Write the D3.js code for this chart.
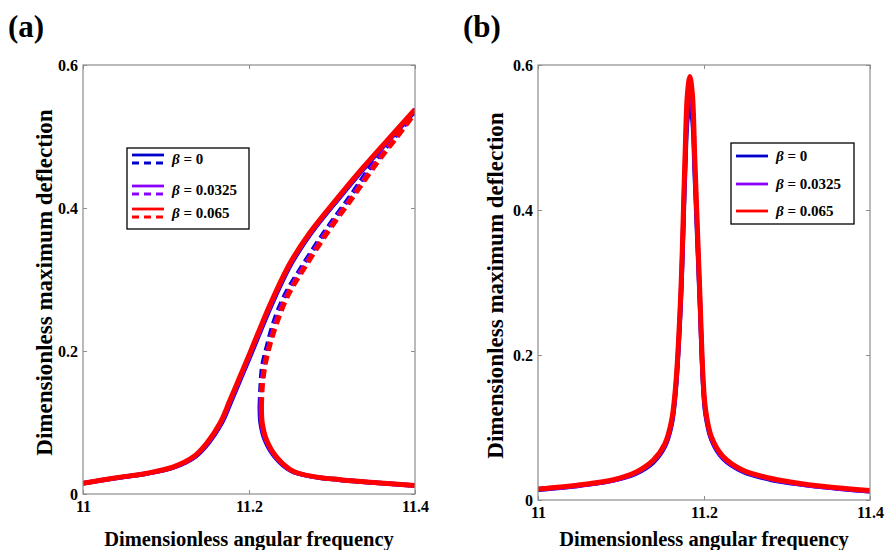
<!DOCTYPE html>
<html>
<head>
<meta charset="utf-8">
<script src="https://cdn.jsdelivr.net/npm/d3@7"></script>
<style>
  body { margin: 0; background: #fff; }
  svg text { font-family: 'Liberation Serif', 'Times New Roman', serif; font-weight: bold; fill: #000; }
</style>
</head>
<body>
<svg id="grafico"></svg>
<script>
// valores
let betas = ['0', '0.0325', '0.065'];
let cores = ['#0000cc', '#8c00ff', '#ff0000'];
let ticksX = [11, 11.2, 11.4];
let ticksY = [0, 0.2, 0.4, 0.6];

// painel (a): ramo superior (estavel)
let ampSupA = [0.015, 0.022, 0.029, 0.038, 0.052, 0.071, 0.099, 0.131, 0.164, 0.197, 0.231, 0.264, 0.322, 0.365, 0.413, 0.456, 0.494, 0.538];
let freqSupA0 = [11.0, 11.038, 11.079, 11.111, 11.135, 11.151, 11.167, 11.179, 11.191, 11.203, 11.215, 11.227, 11.251, 11.275, 11.308, 11.339, 11.368, 11.402];
let freqSupA1 = [11.0, 11.037, 11.078, 11.110, 11.134, 11.150, 11.166, 11.178, 11.190, 11.202, 11.214, 11.226, 11.250, 11.274, 11.307, 11.338, 11.367, 11.401];
let freqSupA2 = [11.0, 11.036, 11.077, 11.109, 11.133, 11.149, 11.165, 11.177, 11.189, 11.201, 11.213, 11.225, 11.249, 11.273, 11.306, 11.337, 11.366, 11.400];

// painel (a): ramo do meio (instavel, tracejado)
let ampMeioA = [0.123, 0.150, 0.178, 0.208, 0.241, 0.278, 0.313, 0.365, 0.415, 0.463, 0.499, 0.533];
let freqMeioA0 = [11.213, 11.214, 11.216, 11.222, 11.230, 11.243, 11.261, 11.290, 11.321, 11.350, 11.375, 11.399];
let freqMeioA1 = [11.214, 11.215, 11.218, 11.224, 11.232, 11.245, 11.263, 11.292, 11.323, 11.352, 11.377, 11.400];
let freqMeioA2 = [11.215, 11.216, 11.219, 11.225, 11.234, 11.247, 11.265, 11.294, 11.325, 11.354, 11.378, 11.400];

// painel (a): ramo inferior (estavel)
let ampInfA = [0.123, 0.099, 0.076, 0.052, 0.032, 0.024, 0.020, 0.016, 0.012];
let freqInfA0 = [11.213, 11.214, 11.219, 11.231, 11.251, 11.278, 11.308, 11.348, 11.398];
let freqInfA1 = [11.214, 11.215, 11.220, 11.232, 11.252, 11.279, 11.309, 11.349, 11.399];
let freqInfA2 = [11.215, 11.216, 11.221, 11.233, 11.253, 11.280, 11.310, 11.350, 11.400];

// painel (b): curva de ressonancia
let freqB = [11.0, 11.051, 11.091, 11.119, 11.139, 11.153, 11.161, 11.166, 11.172, 11.177, 11.180, 11.183, 11.186, 11.189, 11.195, 11.199, 11.202, 11.209, 11.223, 11.247, 11.28, 11.32, 11.36, 11.4];
let ampB0 = [0.014, 0.020, 0.027, 0.037, 0.052, 0.074, 0.104, 0.152, 0.272, 0.445, 0.525, 0.545, 0.525, 0.445, 0.272, 0.157, 0.117, 0.083, 0.057, 0.039, 0.028, 0.021, 0.016, 0.012];
let ampB1 = [0.015, 0.020, 0.027, 0.038, 0.054, 0.076, 0.107, 0.156, 0.279, 0.457, 0.542, 0.565, 0.542, 0.457, 0.279, 0.161, 0.120, 0.085, 0.058, 0.040, 0.029, 0.021, 0.016, 0.012];
let ampB2 = [0.015, 0.021, 0.028, 0.039, 0.055, 0.078, 0.110, 0.160, 0.285, 0.469, 0.560, 0.584, 0.560, 0.469, 0.285, 0.166, 0.124, 0.087, 0.060, 0.041, 0.030, 0.022, 0.017, 0.013];

let svg = d3.select('#grafico').attr('width', 894).attr('height', 550);

function zip(xs, ys) {
  return xs.map((x, i) => [x, ys[i]]);
}

// desenha um painel com eixos, curvas e legenda
function painel(p) {
  let fnX = d3.scaleLinear().domain([11, 11.4]).range([p.esq, p.dir]);
  let fnY = d3.scaleLinear().domain([0, 0.6]).range([p.base, p.topo]);

  let clipId = 'clip-' + p.nome;
  svg.append('clipPath').attr('id', clipId)
    .append('rect')
    .attr('x', p.esq).attr('y', p.topo)
    .attr('width', p.dir - p.esq).attr('height', p.base - p.topo);

  let linha = d3.line()
    .x(d => fnX(d[0]))
    .y(d => fnY(d[1]))
    .curve(d3.curveCatmullRom.alpha(0.5));

  let curvas = svg.append('g').attr('clip-path', 'url(#' + clipId + ')');
  p.series.forEach(s => {
    curvas.append('path')
      .attr('d', linha(s.pontos))
      .attr('fill', 'none')
      .attr('stroke', s.cor)
      .attr('stroke-width', s.largura)
      .attr('stroke-dasharray', s.tracejado ? '9,5' : null)
      .attr('stroke-linejoin', 'round');
  });

  // caixa e eixos
  svg.append('rect')
    .attr('x', p.esq).attr('y', p.topo)
    .attr('width', p.dir - p.esq).attr('height', p.base - p.topo)
    .attr('fill', 'none').attr('stroke', '#8c8c8c').attr('stroke-width', 1.2);

  let eixoX = svg.append('g').attr('transform', 'translate(0,' + p.base + ')')
    .call(d3.axisBottom(fnX).tickValues(ticksX).tickFormat(d3.format('')).tickSize(-4).tickSizeOuter(0).tickPadding(7));
  let eixoY = svg.append('g').attr('transform', 'translate(' + p.esq + ',0)')
    .call(d3.axisLeft(fnY).tickValues(ticksY).tickFormat(d3.format('')).tickSize(-4).tickSizeOuter(0).tickPadding(5));
  svg.append('g').attr('transform', 'translate(0,' + p.topo + ')')
    .call(d3.axisTop(fnX).tickValues(ticksX).tickFormat('').tickSize(-4).tickSizeOuter(0));
  svg.append('g').attr('transform', 'translate(' + p.dir + ',0)')
    .call(d3.axisRight(fnY).tickValues(ticksY).tickFormat('').tickSize(-4).tickSizeOuter(0));

  svg.selectAll('.domain').remove();
  svg.selectAll('.tick line').attr('stroke', '#8c8c8c');
  eixoX.selectAll('text').style('font-size', '16px').attr('fill', '#000');
  eixoY.selectAll('text').style('font-size', '16px').attr('fill', '#000');

  // titulos
  svg.append('text')
    .attr('x', (p.esq + p.dir) / 2).attr('y', 546)
    .attr('text-anchor', 'middle').style('font-size', '20.5px')
    .text('Dimensionless angular frequency');
  svg.append('text')
    .attr('transform', 'translate(' + p.tituloY + ',' + ((p.topo + p.base) / 2 + 3) + ') rotate(-90)')
    .attr('text-anchor', 'middle').style('font-size', '23px')
    .text('Dimensionless maximum deflection');
  svg.append('text')
    .attr('x', p.esq - 75).attr('y', 37)
    .style('font-size', '31px')
    .text(p.rotulo);

  // legenda
  let leg = svg.append('g');
  leg.append('rect')
    .attr('x', p.leg.x).attr('y', p.leg.y)
    .attr('width', p.leg.w).attr('height', p.leg.h)
    .attr('fill', '#fff').attr('stroke', '#000').attr('stroke-width', 1.3);
  betas.forEach((b, i) => {
    let yy = p.leg.linhas[i];
    leg.append('line')
      .attr('x1', p.leg.x + 5).attr('x2', p.leg.x + 37)
      .attr('y1', yy).attr('y2', yy)
      .attr('stroke', cores[i]).attr('stroke-width', 2.8);
    if (p.leg.tracejado) {
      leg.append('line')
        .attr('x1', p.leg.x + 5).attr('x2', p.leg.x + 37)
        .attr('y1', yy + 8).attr('y2', yy + 8)
        .attr('stroke', cores[i]).attr('stroke-width', 2.8)
        .attr('stroke-dasharray', '7,5');
    }
    let t = leg.append('text')
      .attr('x', p.leg.x + 45)
      .attr('y', yy + (p.leg.tracejado ? 4 : 0))
      .attr('dy', '0.35em')
      .style('font-size', '15px');
    t.append('tspan').style('font-style', 'italic').text('β');
    t.append('tspan').text(' = ' + b);
  });
}

painel({
  nome: 'a', rotulo: '(a)',
  esq: 83, dir: 415, topo: 65, base: 494, tituloY: 52,
  series: [
    { cor: cores[0], largura: 4.5, pontos: zip(freqSupA0, ampSupA) },
    { cor: cores[0], largura: 4.5, pontos: zip(freqInfA0, ampInfA) },
    { cor: cores[0], largura: 4.5, tracejado: true, pontos: zip(freqMeioA0, ampMeioA) },
    { cor: cores[1], largura: 4.5, pontos: zip(freqSupA1, ampSupA) },
    { cor: cores[1], largura: 4.5, pontos: zip(freqInfA1, ampInfA) },
    { cor: cores[1], largura: 4.5, tracejado: true, pontos: zip(freqMeioA1, ampMeioA) },
    { cor: cores[2], largura: 5, pontos: zip(freqSupA2, ampSupA) },
    { cor: cores[2], largura: 5, pontos: zip(freqInfA2, ampInfA) },
    { cor: cores[2], largura: 5, tracejado: true, pontos: zip(freqMeioA2, ampMeioA) }
  ],
  leg: { x: 127, y: 148, w: 122, h: 81, linhas: [155, 186, 209], tracejado: true }
});

painel({
  nome: 'b', rotulo: '(b)',
  esq: 538, dir: 870, topo: 65, base: 500, tituloY: 503,
  series: [
    { cor: cores[0], largura: 4.5, pontos: zip(freqB, ampB0) },
    { cor: cores[1], largura: 4.5, pontos: zip(freqB, ampB1) },
    { cor: cores[2], largura: 5, pontos: zip(freqB, ampB2) }
  ],
  leg: { x: 731, y: 143, w: 123, h: 81, linhas: [156, 184, 211], tracejado: false }
});
</script>
</body>
</html>
